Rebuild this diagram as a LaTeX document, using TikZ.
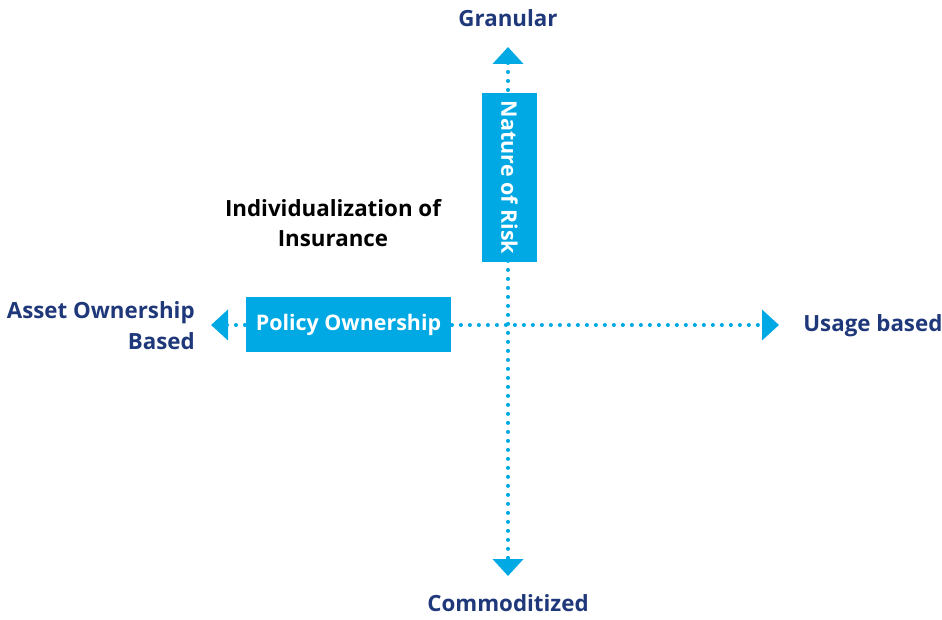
\documentclass[tikz,border=0pt]{standalone}
\usepackage{fontspec}
\IfFontExistsTF{Open Sans SemiBold}{\setmainfont{Open Sans}[BoldFont={Open Sans SemiBold}]}{\setmainfont{Open Sans}}
\usetikzlibrary{arrows.meta,positioning}
\definecolor{navy}{RGB}{31,56,122}
\definecolor{skyblue}{RGB}{0,169,228}
\begin{document}
\begin{tikzpicture}[
    x=0.02cm, y=0.02cm,
    font=\fontsize{12.6}{17.5}\selectfont,
    label/.style={text=navy, font=\fontsize{12.7}{17.5}\selectfont\bfseries, inner sep=0pt},
    box/.style={rectangle, fill=skyblue, text=white, font=\fontsize{12.2}{15}\selectfont\bfseries, inner sep=0pt, minimum height=1.1cm},
    axis/.style={skyblue, line width=2.3pt, line cap=round, dash pattern=on 0pt off 0.18cm,
        {Triangle[width=0.6cm, length=0.34cm, line cap=butt]}-{Triangle[width=0.6cm, length=0.34cm, line cap=butt]}},
]
    \useasboundingbox (0,0) rectangle (942,619);

    % Ends of the two axes
    \coordinate (top) at (508,572);
    \coordinate (bottom) at (508,43);
    \coordinate (left) at (211,294);
    \coordinate (right) at (779,294);

    % Axes
    \draw[axis] (top) -- (bottom);
    \draw[axis] (left) -- (right);

    % Boxes on the axes
    \node[box, minimum width=4.1cm] (policy) at (348.5,294.5) {Policy Ownership};
    \node[box, rotate=-90, minimum width=3.38cm] (nature) at (509.5,441.5) {Nature of Risk};

    % Axis labels
    \node[label] (granular) at (508,601) {Granular};
    \node[label] (commod) at (508,16) {Commoditized};
    \node[label, anchor=west] (usage) at (803,293) {Usage based};
    \node[label, anchor=east, align=right] (asset) at (195,293) {Asset Ownership\\Based};

    % Title
    \node[label, text=black, align=center] (indiv) at (333,396) {Individualization of\\Insurance};

\end{tikzpicture}
\end{document}
